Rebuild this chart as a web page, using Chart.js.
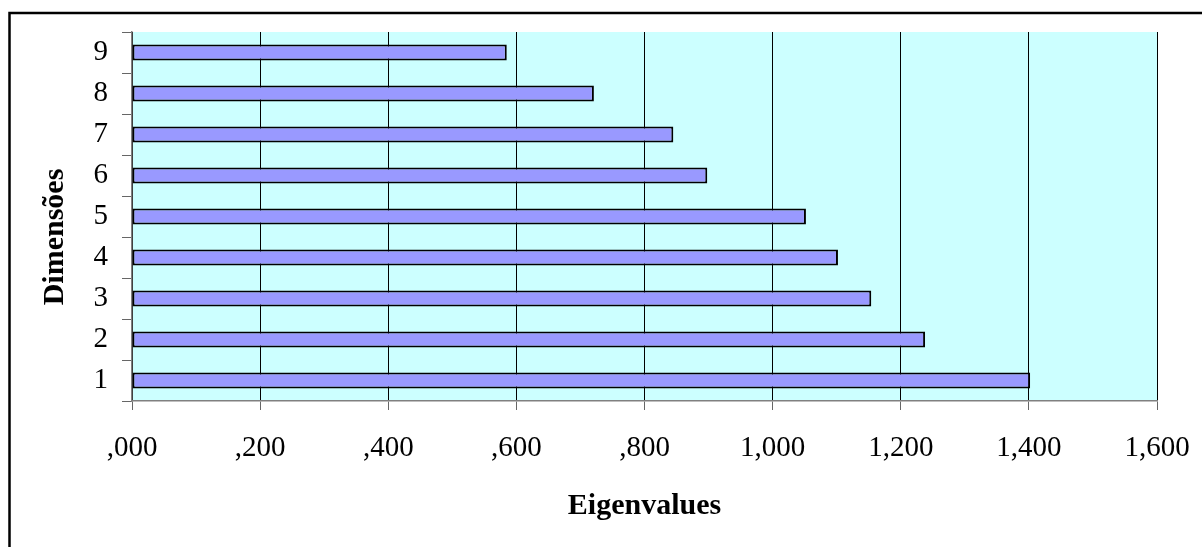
<!DOCTYPE html>
<html>
<head>
<meta charset="utf-8">
<script src="https://cdn.jsdelivr.net/npm/chart.js@4.4.1/dist/chart.umd.min.js"></script>
<style>
  html, body { margin: 0; padding: 0; background: #fff; }
  canvas { display: block; }
</style>
</head>
<body>
<canvas id="myChartEigen" width="1202" height="547"></canvas>
<script>
const DIMENSOES = ['1', '2', '3', '4', '5', '6', '7', '8', '9']
const EIGENVALUES = [1.402, 1.238, 1.154, 1.102, 1.052, 0.898, 0.845, 0.721, 0.585]
const X_TICK_LABELS = [',000', ',200', ',400', ',600', ',800', '1,000', '1,200', '1,400', '1,600']

const FONT = "'Liberation Serif', 'Times New Roman', serif"

// fundo ciano da area do grafico + moldura externa + titulo do eixo y
const plotBackground = {
    id: 'plotBackground',
    beforeDraw(chart) {
        const { ctx, chartArea } = chart
        ctx.save()
        ctx.fillStyle = '#CCFFFF'
        ctx.fillRect(chartArea.left, chartArea.top, chartArea.right - chartArea.left, chartArea.bottom - chartArea.top)
        ctx.restore()
    },
    afterDraw(chart) {
        const { ctx } = chart
        ctx.save()
        ctx.strokeStyle = '#000'
        ctx.lineWidth = 2.5
        ctx.strokeRect(9.5, 13, 1400, 800)
        // titulo y
        ctx.translate(55, 237)
        ctx.rotate(-Math.PI / 2)
        ctx.font = 'bold 30px ' + FONT
        ctx.fillStyle = '#000'
        ctx.textAlign = 'center'
        ctx.textBaseline = 'middle'
        ctx.fillText('Dimensões', 0, 0)
        ctx.restore()
    }
}

var ctx = document.getElementById('myChartEigen')
var myChart = new Chart(ctx, {
    type: 'bar',
    data: {
        labels: DIMENSOES,
        datasets: [{
            label: 'Eigenvalues',
            data: EIGENVALUES,
            backgroundColor: '#9999FF',
            borderColor: '#000',
            borderWidth: 2,
            borderSkipped: false,
            barPercentage: 0.39,
            categoryPercentage: 1
        }]
    },
    options: {
        indexAxis: 'y',
        responsive: false,
        devicePixelRatio: 1,
        animation: false,
        layout: { padding: { left: 0, top: 32, right: 45, bottom: 0 } },
        plugins: {
            legend: { display: false },
            tooltip: { enabled: false }
        },
        scales: {
            x: {
                min: 0,
                max: 1.6,
                ticks: {
                    stepSize: 0.2,
                    color: '#000',
                    padding: 21,
                    maxRotation: 0,
                    font: { family: FONT, size: 29 },
                    callback: (v, i) => X_TICK_LABELS[i]
                },
                grid: {
                    color: '#000',
                    lineWidth: 1,
                    tickLength: 9,
                    tickColor: '#666'
                },
                border: { color: '#808080', width: 1.5 },
                title: {
                    display: true,
                    text: 'Eigenvalues',
                    color: '#000',
                    font: { family: FONT, size: 30, weight: 'bold' },
                    padding: { top: 0, bottom: 23 }
                },
                afterFit: (scale) => {
                    scale.height = 146
                    scale.paddingLeft = 0
                    scale.paddingRight = 0
                }
            },
            y: {
                reverse: true,
                ticks: {
                    color: '#000',
                    padding: 14,
                    font: { family: FONT, size: 29 }
                },
                grid: {
                    drawOnChartArea: false,
                    offset: true,
                    tickLength: 10,
                    tickColor: '#666'
                },
                border: { color: '#808080', width: 1.5 },
                afterFit: (scale) => { scale.width = 132 }
            }
        }
    },
    plugins: [plotBackground]
})
</script>
</body>
</html>
